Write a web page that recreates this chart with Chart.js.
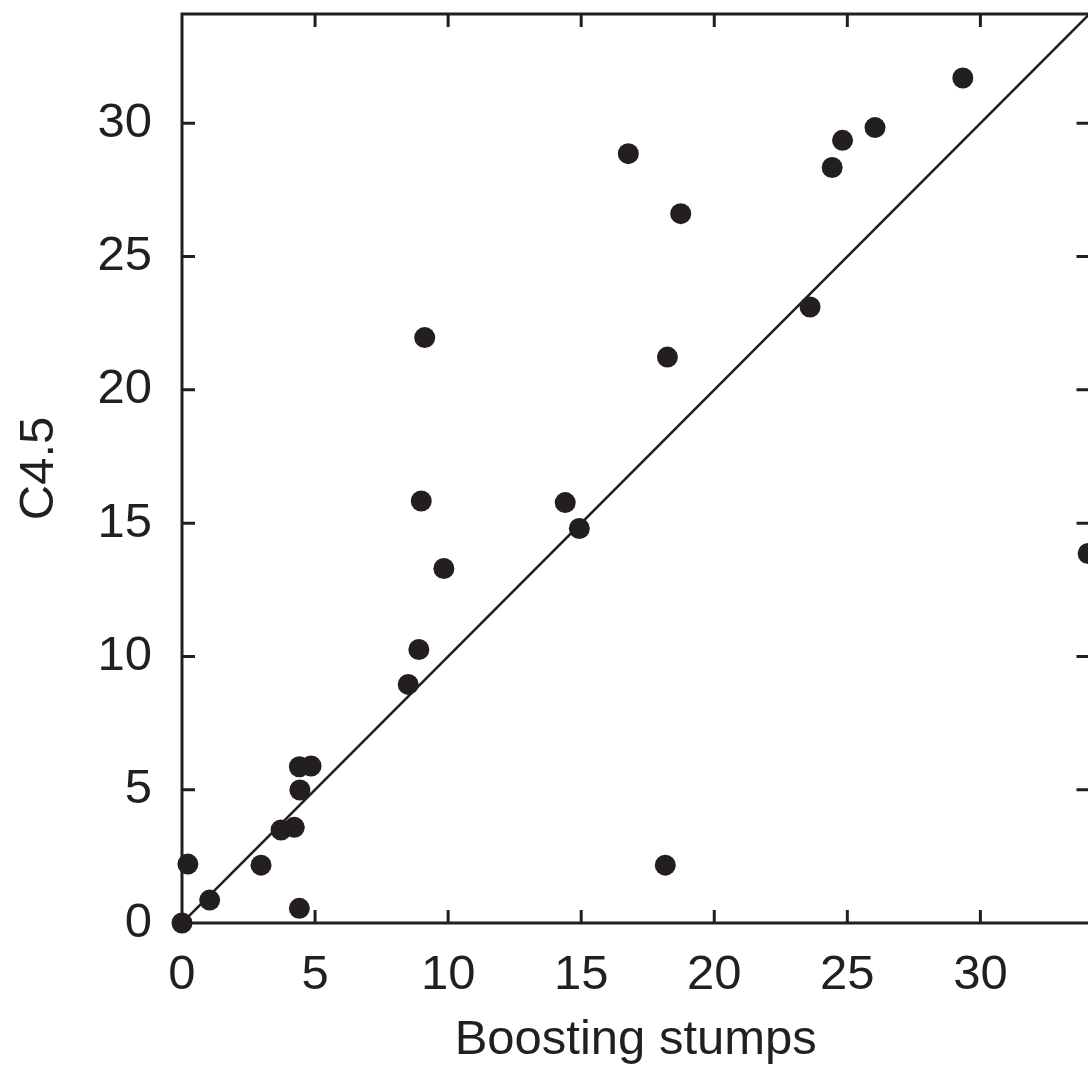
<!DOCTYPE html>
<html>
<head>
<meta charset="utf-8">
<script src="https://cdn.jsdelivr.net/npm/chart.js@4"></script>
<style>
  html, body { margin: 0; padding: 0; overflow: hidden; background: #fff; width: 1088px; height: 1070px; }
  #wrap { position: absolute; left: 0; top: 0; width: 1100px; height: 1070px; }
</style>
</head>
<body>
<div id="wrap"><canvas id="c" width="1100" height="1070"></canvas></div>
<script>
// Data (x = Boosting stumps, y = C4.5)
const boostingStumps = [0, 0.22, 1.04, 2.97, 3.72, 4.22, 4.41, 4.85, 4.43, 4.41,
  8.50, 8.90, 8.99, 9.12, 9.84, 14.40, 14.93, 16.77, 18.74, 18.24, 18.16,
  23.60, 24.43, 24.82, 26.04, 29.34, 34.05];
const c45 = [0, 2.21, 0.86, 2.17, 3.49, 3.59, 5.86, 5.89, 4.99, 0.55,
  8.95, 10.26, 15.83, 21.96, 13.30, 15.77, 14.80, 28.86, 26.61, 21.23, 2.17,
  23.11, 28.34, 29.36, 29.84, 31.70, 13.86];
const diagonalLine = [0, 34.1];
const axisMin = 0;
const axisMax = 34.1;
const tickStep = 5;
const xTitle = 'Boosting stumps';
const yTitle = 'C4.5';

const INK = '#231f20';
const FONT = "'Liberation Sans', Arial, Helvetica, sans-serif";

const points = boostingStumps.map((x, i) => ({ x: x, y: c45[i] }));
const diag = diagonalLine.map(v => ({ x: v, y: v }));

const framePlugin = {
  id: 'frameTicks',
  afterDatasetsDraw(chart) {
    const ctx = chart.ctx;
    const a = chart.chartArea;
    const xs = chart.scales.x, ys = chart.scales.y;
    const len = 13;
    ctx.save();
    ctx.strokeStyle = INK;
    ctx.lineWidth = 3;
    ctx.lineCap = 'butt';
    ctx.beginPath();
    xs.ticks.forEach(t => {
      if (t.value <= axisMin) return;
      const px = xs.getPixelForValue(t.value);
      ctx.moveTo(px, a.bottom); ctx.lineTo(px, a.bottom - len);
      ctx.moveTo(px, a.top); ctx.lineTo(px, a.top + len);
    });
    ys.ticks.forEach(t => {
      if (t.value <= axisMin) return;
      const py = ys.getPixelForValue(t.value);
      ctx.moveTo(a.left, py); ctx.lineTo(a.left + len, py);
      ctx.moveTo(a.right, py); ctx.lineTo(a.right - len, py);
    });
    ctx.stroke();
    ctx.strokeRect(a.left, a.top, a.right - a.left, a.bottom - a.top);
    ctx.restore();
  }
};

new Chart(document.getElementById('c'), {
  type: 'scatter',
  data: {
    datasets: [
      {
        type: 'line',
        data: diag,
        borderColor: INK,
        borderWidth: 2.6,
        pointRadius: 0,
        fill: false,
        tension: 0
      },
      {
        data: points,
        backgroundColor: INK,
        borderWidth: 0,
        pointRadius: 10.5,
        pointHoverRadius: 10.5,
        clip: false
      }
    ]
  },
  options: {
    responsive: false,
    animation: false,
    events: [],
    layout: { padding: { top: 14, right: 10, bottom: 0, left: 0 } },
    plugins: { legend: { display: false }, tooltip: { enabled: false } },
    scales: {
      x: {
        type: 'linear',
        min: axisMin, max: axisMax,
        grid: { display: false },
        border: { display: false },
        ticks: { stepSize: tickStep, includeBounds: false, color: INK, padding: 15,
                 font: { family: FONT, size: 49 }, maxRotation: 0, autoSkip: false },
        title: { display: true, text: xTitle, color: INK, font: { family: FONT, size: 49 },
                 padding: { top: 0, bottom: 0 } },
        afterFit(s) { s.height = 147; s.paddingLeft = 0; s.paddingRight = 0; }
      },
      y: {
        type: 'linear',
        min: axisMin, max: axisMax,
        grid: { display: false },
        border: { display: false },
        ticks: { stepSize: tickStep, includeBounds: false, color: INK, padding: 22,
                 font: { family: FONT, size: 49 }, autoSkip: false },
        title: { display: true, text: yTitle, color: INK, font: { family: FONT, size: 49 },
                 padding: { top: 10, bottom: 0 } },
        afterFit(s) { s.width = 182; s.paddingTop = 0; s.paddingBottom = 0; }
      }
    }
  },
  plugins: [framePlugin]
});
</script>
</body>
</html>
